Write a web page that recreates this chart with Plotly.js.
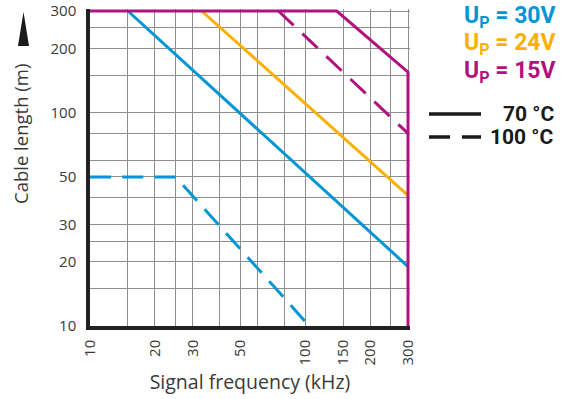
<!DOCTYPE html>
<html>
<head>
<meta charset="utf-8">
<script src="https://cdn.plot.ly/plotly-3.0.1.min.js"></script>
<style>html,body{margin:0;padding:0;background:#fff;}#chart{width:561px;height:399px;}</style>
</head>
<body>
<div id="chart"></div>
<script>
// Labelled ticks and extra (unlabelled) grid values
const freqTicks  = [10, 20, 30, 50, 100, 150, 200, 300];
const freqLabels = ['10', '20', '30', '50', '100', '150', '200', '300'];
const freqGrid   = [15, 25, 40, 60, 80, 250];
const lenTicks   = [10, 20, 30, 50, 100, 200, 300];
const lenLabels  = ['10', '20', '30', '50', '100', '200', '300'];
const lenGrid    = [15, 25, 40, 60, 80, 150, 250];

// Series (frequency kHz, cable length m)
const up30_70C_freq  = [15, 300];
const up30_70C_len   = [300, 19];
const up30_100C_freq = [10, 25, 100];
const up30_100C_len  = [50, 50, 10.5];
const up24_70C_freq  = [33, 300];
const up24_70C_len   = [300, 41];
const up15_70C_freq  = [10, 140, 300, 300];
const up15_70C_len   = [300, 300, 155, 10];
const up15_100C_freq = [75, 300];
const up15_100C_len  = [300, 80];

const legendLabels = ['U<sub>P</sub> = 30V', 'U<sub>P</sub> = 24V', 'U<sub>P</sub> = 15V'];
const tempLabels = ['70 °C', '100 °C'];

const BLUE = '#0096d6', ORANGE = '#f9b000', MAGENTA = '#b0137e';
const DASH = '21px,11.25px';
const LW = 3;

const traces = [
  {x: up30_70C_freq, y: up30_70C_len, mode: 'lines', line: {color: BLUE, width: LW}},
  {x: up30_100C_freq, y: up30_100C_len, mode: 'lines', line: {color: BLUE, width: LW, dash: DASH}},
  {x: up24_70C_freq, y: up24_70C_len, mode: 'lines', line: {color: ORANGE, width: LW}},
  {x: up15_100C_freq, y: up15_100C_len, mode: 'lines', line: {color: MAGENTA, width: LW, dash: '21px,12px'}},
  {x: up15_70C_freq, y: up15_70C_len, mode: 'lines', line: {color: MAGENTA, width: LW}}
];

const tickFont = {family: 'Open Sans, sans-serif', size: 15, color: '#3a3a3a'};
const legFont = {family: 'Roboto, sans-serif', size: 23, weight: 'bold'};
const GRID = '#8e8e8e';

const layout = {
  width: 561, height: 399,
  margin: {l: 90, r: 151, t: 9, b: 73},
  paper_bgcolor: '#fff', plot_bgcolor: '#fff',
  showlegend: false,
  xaxis: {
    type: 'log',
    range: [1, Math.log10(300) + 0.0093],
    tickmode: 'array', tickvals: freqTicks, ticktext: freqLabels,
    tickangle: -90,
    tickfont: tickFont,
    ticks: '', ticklabelstandoff: 4,
    showgrid: true, gridcolor: GRID, gridwidth: 1,
    minor: {tickmode: 'array', tickvals: freqGrid, showgrid: true, gridcolor: GRID, gridwidth: 1, ticks: ''},
    showline: true, linecolor: '#222', linewidth: 3.5,
    zeroline: false,
    title: {text: 'Signal frequency (kHz)', font: {family: 'Open Sans, sans-serif', size: 19.5, color: '#3a3a3a'}, standoff: 12}
  },
  yaxis: {
    type: 'log',
    range: [1, Math.log10(300) + 0.0094],
    tickmode: 'array', tickvals: lenTicks, ticktext: lenLabels,
    tickfont: tickFont,
    ticks: '', ticklabelstandoff: 7,
    showgrid: true, gridcolor: GRID, gridwidth: 1,
    minor: {tickmode: 'array', tickvals: lenGrid, showgrid: true, gridcolor: GRID, gridwidth: 1, ticks: ''},
    showline: true, linecolor: '#222', linewidth: 3.5,
    zeroline: false
  },
  shapes: [
    {type: 'path', xref: 'paper', yref: 'paper',
     path: 'M -0.2078 0.9905 L -0.1906 0.8833 L -0.225 0.8833 Z',
     fillcolor: '#1a1a1a', line: {width: 0}},
    {type: 'line', xref: 'paper', yref: 'paper', x0: 1.0594, x1: 1.2219, y0: 0.6688, y1: 0.6688,
     line: {color: '#1a1a1a', width: 3.5}},
    {type: 'line', xref: 'paper', yref: 'paper', x0: 1.0594, x1: 1.2219, y0: 0.5962, y1: 0.5962,
     line: {color: '#1a1a1a', width: 3.5, dash: '21px,12px'}}
  ],
  annotations: [
    {xref: 'paper', yref: 'paper', x: -0.2156, y: 0.6057, text: 'Cable length (m)', textangle: -90,
     showarrow: false, xanchor: 'center', yanchor: 'middle',
     font: {family: 'Open Sans, sans-serif', size: 18.5, color: '#3a3a3a'}},
    {xref: 'paper', yref: 'paper', x: 1.4625, y: 0.9748, text: legendLabels[0], showarrow: false,
     xanchor: 'right', yanchor: 'middle', font: Object.assign({}, legFont, {color: BLUE})},
    {xref: 'paper', yref: 'paper', x: 1.4625, y: 0.8896, text: legendLabels[1], showarrow: false,
     xanchor: 'right', yanchor: 'middle', font: Object.assign({}, legFont, {color: ORANGE})},
    {xref: 'paper', yref: 'paper', x: 1.4625, y: 0.8013, text: legendLabels[2], showarrow: false,
     xanchor: 'right', yanchor: 'middle', font: Object.assign({}, legFont, {color: MAGENTA})},
    {xref: 'paper', yref: 'paper', x: 1.4563, y: 0.6688, text: tempLabels[0], showarrow: false,
     xanchor: 'right', yanchor: 'middle', font: {family: 'Roboto, sans-serif', size: 21, weight: 'bold', color: '#1a1a1a'}},
    {xref: 'paper', yref: 'paper', x: 1.4563, y: 0.5962, text: tempLabels[1], showarrow: false,
     xanchor: 'right', yanchor: 'middle', font: {family: 'Roboto, sans-serif', size: 21, weight: 'bold', color: '#1a1a1a'}}
  ]
};

Plotly.newPlot('chart', traces, layout, {displayModeBar: false});
</script>
</body>
</html>
